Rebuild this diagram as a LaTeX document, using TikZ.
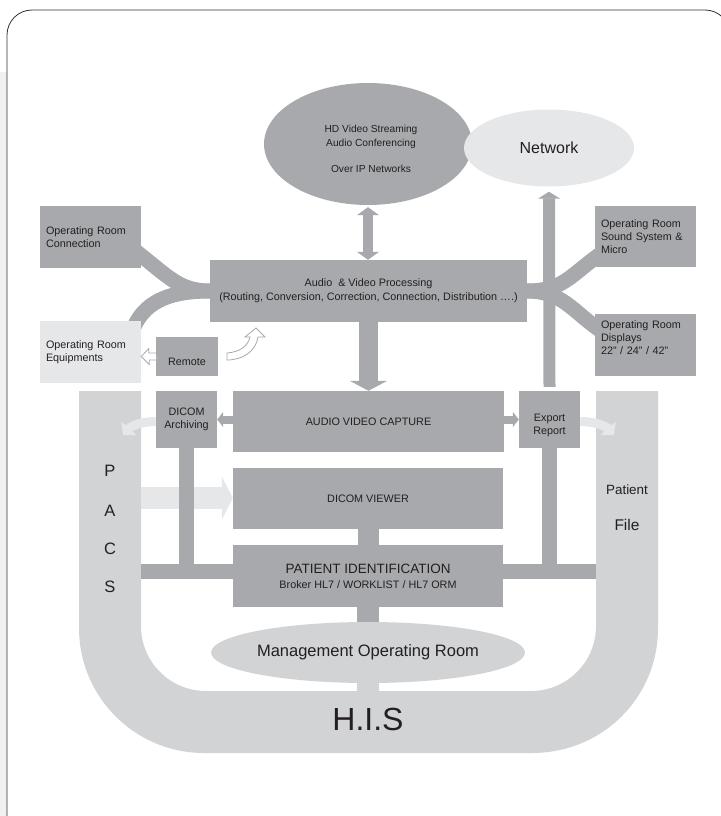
\documentclass[tikz,border=0pt]{standalone}
\usepackage{fontspec}
\setmainfont{Liberation Sans}
\usetikzlibrary{shapes.geometric,arrows.meta}
\definecolor{boxgray}{HTML}{A7A9AC}
\definecolor{palegray}{HTML}{E6E7E8}
\definecolor{bandgray}{HTML}{D1D3D4}
\definecolor{inkgray}{HTML}{231F20}
\newcommand{\fsz}[2]{\fontsize{#1}{#2}\selectfont}
\pgfdeclarelayer{back}
\pgfdeclarelayer{links}
\pgfsetlayers{back,links,main}

\begin{document}
\begin{tikzpicture}
  [x=1pt,y=-1pt,
   every node/.style={text=inkgray,inner sep=0pt,font=\fsz{10.8}{13}},
   box/.style={rectangle,fill=boxgray},
   sidebox/.style={box,minimum width=101pt,minimum height=62pt,text width=89pt,align=left},
   bar/.style={draw=boxgray,line width=15pt},
   soft/.style={draw=palegray,line width=9pt,-{Triangle[length=9pt,width=20pt]}},
   hollow/.style={draw=boxgray,fill=white,line width=0.8pt}]
  \useasboundingbox (0,0) rectangle (720,816);

  % frame and H.I.S band
  \begin{pgfonlayer}{back}
    \fill[palegray!60] (0,72) rectangle (7,816);
    \draw[black!80,line width=0.8pt,rounded corners=25pt] (7,10) rectangle (730,840);
    \fill[bandgray] (79,391) -- (79,628) .. controls (79,697) and (135,753) .. (204,753)
      -- (532,753) .. controls (602,753) and (658,698) .. (658,628) -- (658,391)
      -- (596,391) -- (596,626) .. controls (596,662) and (567,691) .. (531,691)
      -- (206,691) .. controls (170,691) and (141,662) .. (141,626) -- (141,391) -- cycle;
  \end{pgfonlayer}

  \node[ellipse,fill=boxgray,minimum width=208pt,minimum height=122pt] (hd) at (368,144) {};
  \node[font=\fsz{10.2}{14},align=center] (hdtxt) at (371,149) {HD Video Streaming\\Audio Conferencing\\[12pt]Over IP Networks};
  \node[ellipse,fill=palegray,minimum width=170pt,minimum height=77pt,font=\fsz{16}{18}] (net) at (549,148) {Network};

  \node[sidebox] (conn) at (90.5,237) {Operating Room\\Connection};
  \node[sidebox,fill=palegray] (equip) at (90.5,352) {Operating Room\\Equipments};
  \node[sidebox,minimum height=61pt] (sound) at (645.5,236.5) {Operating Room\\Sound System \&\\Micro};
  \node[sidebox] (disp) at (645.5,345) {};
  \node[text width=89pt,align=left] (displbl) at (645.5,337.5) {Operating Room\\Displays\\22" / 24" / 42"};

  \node[box,minimum width=317pt,minimum height=62pt,align=center,font=\fsz{10.8}{14}] (proc) at (368.5,291)
    {Audio~ \& Video Processing\\(Routing, Conversion, Correction, Connection, Distribution ….)};
  \node[box,minimum width=62pt,minimum height=39pt] (remote) at (187,356.5) {};
  \node (remotelbl) at (187,362) {Remote};

  \node[box,minimum width=271pt,minimum height=61pt] (capt) at (368.5,421.5) {AUDIO VIDEO CAPTURE};
  \node[box,minimum width=61pt,minimum height=57pt,align=center] (arch) at (186.5,419.5) {DICOM\\Archiving};
  \node[box,minimum width=61pt,minimum height=57pt] (expo) at (549.5,419.5) {};
  \node[align=center] (expolbl) at (549.5,425.5) {Export\\Report};
  \node[box,minimum width=270pt,minimum height=61pt] (view) at (368,498.5) {DICOM VIEWER};
  \node[box,minimum width=270pt,minimum height=62pt,align=center,font=\fsz{10.8}{15}] (pid) at (368,576)
    {{\fsz{13.5}{15}PATIENT IDENTIFICATION}\\Broker HL7 / WORKLIST / HL7 ORM};
  \node[ellipse,fill=bandgray,minimum width=270pt,minimum height=61pt,font=\fsz{16.5}{18}] (mgmt) at (368,652.5) {Management Operating Room};

  \foreach \l/\y in {P/471,A/511,C/549,S/587}
    \node[font=\fsz{16.5}{18}] (pacs\l) at (110,\y) {\l};
  \node[font=\fsz{13.4}{16}] (pfa) at (627,490) {Patient};
  \node[font=\fsz{15.5}{18}] (pfb) at (627,525) {File};
  \node[font=\fsz{32}{36}] (his) at (368,719) {H.I.S};

  \coordinate (pacsin) at (141,571.5);
  \coordinate (filein) at (596,571.5);
  \coordinate (pacsout) at (141,498);
  \coordinate (pacstip) at (123,435);
  \coordinate (filetip) at (614,435);
  \coordinate (hisin) at (368,691);

  \begin{pgfonlayer}{links}
    \draw[palegray,line width=22pt,-{Triangle[length=11pt,width=43pt]}] (pacsout) -- (pacsout -| view.west);
    \draw[bar] (pacsin) -- (pacsin -| pid.west);
    \draw[bar] (pid.east |- filein) -- (filein);
    \draw[bar] (arch.south) -- (arch.south |- pacsin);
    \draw[bar] (expo.south) -- (expo.south |- filein);

    \draw[bar,shorten <=-6pt] (conn.-20) .. controls +(28,22) and +(-30,0) .. (proc.west);
    \draw[bar,shorten <=-6pt] (equip.34) .. controls +(10,-22) and +(-35,0) .. (proc.west);
    \draw[bar,shorten >=-6pt] (proc.east) .. controls +(35,0) and +(-25,18) .. (sound.203);
    \draw[bar,shorten >=-6pt] (proc.east) .. controls +(35,0) and +(-22,-15) .. (disp.160);

    \draw[boxgray,line width=10pt,{Triangle[length=8pt,width=22pt]}-{Triangle[length=8pt,width=22pt]}]
      ([yshift=-2pt]hd.south) -- (hd.south |- proc.north);
    \draw[boxgray,line width=19pt,-{Triangle[length=10pt,width=37pt]}] (proc.south) -- (capt.north);
    \draw[boxgray,line width=12pt,-{Triangle[length=7pt,width=22pt]}] ([yshift=4pt]expo.north) -- ([yshift=-5pt]net.south);
    \draw[boxgray,line width=8pt,-{Triangle[length=6pt,width=15pt]}] (capt.west |- arch.center) -- (arch.east);
    \draw[boxgray,line width=8pt,-{Triangle[length=6pt,width=15pt]}] (capt.east |- expo.center) -- (expo.west);

    \draw[soft] ([yshift=-2pt]arch.west) .. controls +(-14,0) and +(8,-9) .. (pacstip);
    \draw[soft] ([yshift=-2pt]expo.east) .. controls +(14,0) and +(-8,-9) .. (filetip);

    \draw[bar,line width=21pt] (view.south) -- (pid.north);
    \draw[bar,line width=22pt] (pid.south) -- (mgmt.north);
    \draw[bandgray,line width=22pt] (mgmt.south) -- (hisin);
  \end{pgfonlayer}

  % outline arrows from the remote
  \draw[hollow] (remote.west) ++(0,-3.5) -- ++(-7,0) -- ++(0,-4.5) -- (equip.east |- remote.west)
    -- ++(8,8) -- ++(0,-4.5) -- ++(7,0);
  \draw[hollow] (227,353) .. controls (240,352) and (248,346) .. (250,337) -- (245,337) -- (256,328)
    -- (265,337) -- (258,337) .. controls (256,351) and (243,360) .. (227,360) -- cycle;
\end{tikzpicture}
\end{document}
